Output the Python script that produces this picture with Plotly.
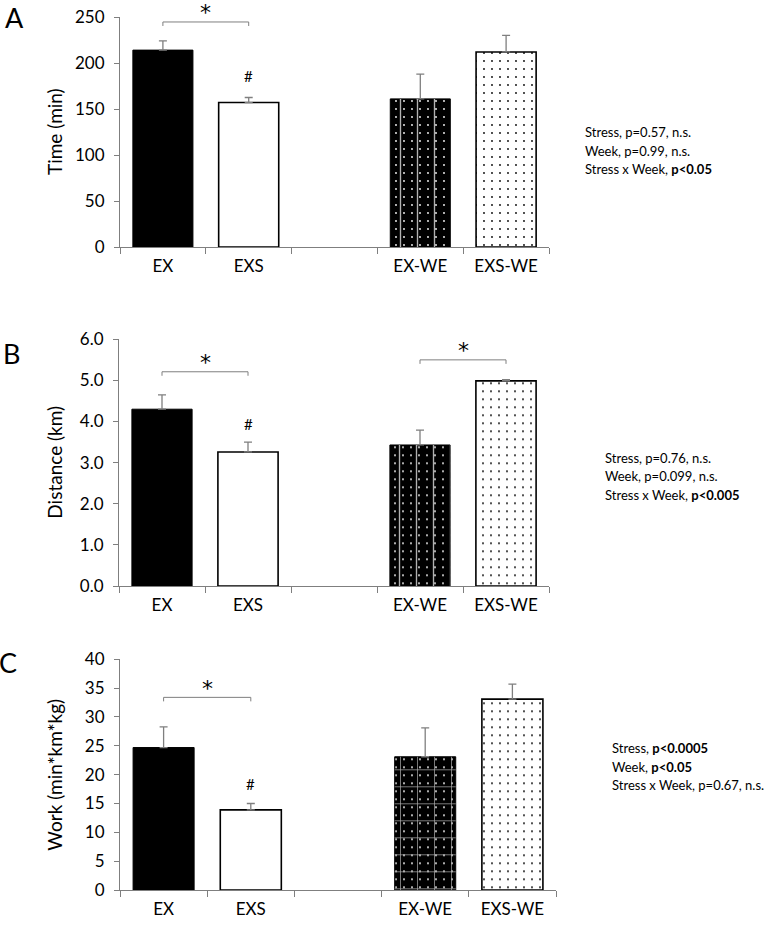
import plotly.graph_objects as go

W, H = 770, 926
FONT = "Lato"

categories = ["EX", "EXS", " ", "EX-WE", "EXS-WE"]

time_mean = [214, 157, None, 161, 212]
time_sem = [10, 5.5, None, 27, 18]
dist_mean = [4.30, 3.26, None, 3.43, 4.99]
dist_sem = [0.35, 0.24, None, 0.36, 0.03]
work_mean = [24.7, 13.9, None, 23.1, 33.1]
work_sem = [3.6, 1.1, None, 5.0, 2.6]

y_titles = ["Time (min)", "Distance (km)", "Work (min*km*kg)"]
panel_letters = ["A", "B", "C"]
y_ranges = [[0, 250], [0, 6], [0, 40]]
y_dticks = [50, 1, 5]
y_formats = ["d", ".1f", "d"]

stats_text = [
    ["Stress, p=0.57, n.s.", "Week, p=0.99, n.s.", "Stress x Week, <b>p<0.05</b>"],
    ["Stress, p=0.76, n.s.", "Week, p=0.099, n.s.", "Stress x Week, <b>p<0.005</b>"],
    ["Stress, <b>p<0.0005</b>", "Week, <b>p<0.05</b>", "Stress x Week, p=0.67, n.s."],
]
# significance brackets: (from index, to index, bracket level)
brackets = [
    [(0, 1, 244.6)],
    [(0, 1, 5.21), (3, 4, 5.50)],
    [(0, 1, 33.4)],
]
hash_levels = [186, 3.94, 18.4]

# layout (pixels)
plot_x = [(120, 549), (119, 549), (120, 556)]
plot_y = [(17, 247), (339.3, 586), (659.3, 890)]
text_x = [583, 603, 610]
text_y0 = [132, 458, 748]
letter_pos = [(14, 17), (11, 353), (8, 662)]

bar_colors = ["black", "white", "white", "black", "white"]
pat_shapes = ["", "", "", ".", "."]
pat_fg = ["black", "black", "black", "white", "black"]
line_w = [1, 1.6, 1.6, 1, 1.6]
overlay_shapes = ["|", "|", "+"]

means = [time_mean, dist_mean, work_mean]
sems = [time_sem, dist_sem, work_sem]

fig = go.Figure()
GRAY = "#7f7f7f"


def px_x(p):
    return p / W


def px_y(p):
    return 1 - p / H


annotations = []
shapes = []
for k in range(3):
    xa = "x" if k == 0 else f"x{k+1}"
    ya = "y" if k == 0 else f"y{k+1}"
    m = means[k]
    s = sems[k]
    for i, cat in enumerate(categories):
        if m[i] is None:
            continue
        fig.add_trace(go.Bar(
            x=[cat], y=[m[i]], xaxis=xa, yaxis=ya,
            marker=dict(color=bar_colors[i],
                        line=dict(color="black", width=line_w[i]),
                        pattern=dict(shape=pat_shapes[i], fgcolor=pat_fg[i],
                                     bgcolor=bar_colors[i], size=8,
                                     solidity=0.04, fillmode="replace")),
            error_y=dict(type="data", symmetric=False, array=[s[i]],
                         arrayminus=[0], color=GRAY, thickness=1.3, width=4),
            showlegend=False, hoverinfo="skip",
        ))
    fig.add_trace(go.Bar(
        x=[categories[3]], y=[m[3]], xaxis=xa, yaxis=ya,
        marker=dict(color="rgba(0,0,0,0)", line=dict(width=0),
                    pattern=dict(shape=overlay_shapes[k], fgcolor="#b0b0b0",
                                 bgcolor="rgba(0,0,0,0)", size=17,
                                 solidity=0.08, fillmode="replace")),
        showlegend=False, hoverinfo="skip",
    ))
    x0, x1 = plot_x[k]
    y0, y1 = plot_y[k]
    lo, hi = y_ranges[k]
    upp = (hi - lo) / (y1 - y0)  # data units per pixel
    fig.update_layout(**{
        ("xaxis" if k == 0 else f"xaxis{k+1}"): dict(
            domain=[px_x(x0), px_x(x1)], anchor=ya, type="category",
            categoryorder="array", categoryarray=categories,
            range=[-0.5, 4.5], tickson="boundaries", ticks="outside",
            ticklen=6, tickcolor=GRAY, showline=True, linecolor=GRAY,
            linewidth=1, showgrid=False, zeroline=False, automargin=False,
            tickfont=dict(family=FONT, size=17, color="black"),
            ticklabelstandoff=4, fixedrange=True),
        ("yaxis" if k == 0 else f"yaxis{k+1}"): dict(
            domain=[px_y(y1), px_y(y0)], anchor=xa, range=[lo, hi],
            dtick=y_dticks[k], tick0=0, tickformat=y_formats[k],
            ticks="outside", ticklen=5, tickcolor=GRAY, showline=True,
            linecolor=GRAY, linewidth=1, showgrid=False, zeroline=False,
            automargin=False,
            tickfont=dict(family=FONT, size=17, color="black"),
            ticklabelstandoff=6, fixedrange=True),
    })

    def val_to_py(v):
        return y1 - (v - lo) / upp

    # brackets
    for (i0, i1, lvl) in brackets[k]:
        drop = 4 * upp
        shapes.append(dict(type="path", xref=xa, yref=ya,
                           path=f"M {i0},{lvl - drop} L {i0},{lvl} L {i1},{lvl} L {i1},{lvl - drop}",
                           line=dict(color=GRAY, width=1)))
        annotations.append(dict(x=(i0 + i1) / 2, y=px_y(val_to_py(lvl) - 9),
                                xref=xa, yref="paper",
                                text="*", showarrow=False, yanchor="middle",
                                xanchor="center",
                                font=dict(family="DejaVu Sans", size=22, color="black")))
    annotations.append(dict(x=1, y=hash_levels[k], xref=xa, yref=ya, text="#",
                            showarrow=False, xanchor="center", yanchor="middle",
                            font=dict(family=FONT, size=15, color="black")))
    # axis title
    annotations.append(dict(x=px_x(55), y=px_y((y0 + y1) / 2), xref="paper", yref="paper",
                            text=y_titles[k], textangle=-90, showarrow=False,
                            xanchor="center", yanchor="middle",
                            font=dict(family=FONT, size=19, color="black")))
    # panel letter
    lx, ly = letter_pos[k]
    annotations.append(dict(x=px_x(lx), y=px_y(ly), xref="paper", yref="paper",
                            text=panel_letters[k], showarrow=False,
                            xanchor="center", yanchor="middle",
                            font=dict(family=FONT, size=27, color="black")))
    # stats text
    for j, t in enumerate(stats_text[k]):
        annotations.append(dict(x=px_x(text_x[k]), y=px_y(text_y0[k] + j * 18.5),
                                xref="paper", yref="paper", xanchor="left",
                                yanchor="middle",
                                text=t, showarrow=False,
                                font=dict(family=FONT, size=13, color="black")))

fig.update_layout(
    width=W, height=H, margin=dict(l=0, r=0, t=0, b=0, autoexpand=False),
    paper_bgcolor="white", plot_bgcolor="white",
    barmode="overlay", bargap=0.3,
    annotations=annotations, shapes=shapes,
    font=dict(family=FONT, color="black"),
)

fig.write_html(
    "out.html",
    config={"displayModeBar": False},
    post_script="document.body.style.margin='0';document.body.style.overflow='hidden';",
)
